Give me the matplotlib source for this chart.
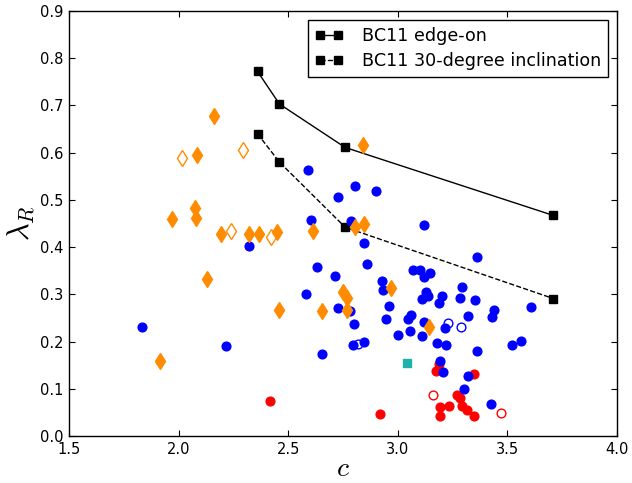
import matplotlib
matplotlib.use("Agg")
from matplotlib import pyplot as plt

# BC11 model tracks
bc_c = [2.36, 2.46, 2.76, 3.71]
bc_edge = [0.772, 0.703, 0.611, 0.467]
bc_30 = [0.640, 0.580, 0.442, 0.291]

# orange diamonds (filled)
or_c = [2.163, 2.843, 2.086, 2.077, 2.080, 1.968, 2.192, 2.319, 2.369, 2.451,
        2.612, 2.803, 2.847, 2.130, 2.967, 2.749, 2.768, 2.768, 2.456, 2.655,
        3.141, 1.913]
or_l = [0.678, 0.616, 0.596, 0.483, 0.461, 0.459, 0.427, 0.427, 0.427, 0.432,
        0.434, 0.442, 0.450, 0.333, 0.314, 0.306, 0.293, 0.267, 0.266, 0.265,
        0.231, 0.159]
# orange diamonds (open)
or_open_c = [2.014, 2.292, 2.240, 2.420]
or_open_l = [0.589, 0.606, 0.435, 0.421]

# blue circles (filled)
bl_c = [2.592, 2.804, 2.902, 2.726, 2.602, 2.788, 3.120, 2.845, 2.321, 3.362,
        2.860, 2.633, 3.068, 3.102, 3.145, 3.120, 2.715, 2.929, 3.291, 2.932,
        2.582, 3.128, 3.201, 3.138, 3.111, 3.283, 3.352, 3.189, 2.960, 3.608,
        2.727, 2.781, 3.440, 3.322, 3.062, 3.048, 2.947, 3.431, 3.118, 2.798,
        3.217, 1.833, 3.056, 2.999, 3.112, 3.564, 2.845, 3.179, 2.797, 3.219,
        3.521, 2.216, 3.361, 2.655, 3.192, 3.204, 3.322, 3.300, 3.425]
bl_l = [0.564, 0.529, 0.518, 0.506, 0.458, 0.455, 0.446, 0.408, 0.403, 0.380,
        0.364, 0.358, 0.352, 0.351, 0.345, 0.337, 0.339, 0.329, 0.315, 0.310,
        0.300, 0.304, 0.297, 0.296, 0.290, 0.293, 0.289, 0.281, 0.275, 0.274,
        0.271, 0.265, 0.267, 0.255, 0.257, 0.248, 0.248, 0.252, 0.241, 0.237,
        0.229, 0.231, 0.222, 0.214, 0.212, 0.202, 0.200, 0.197, 0.193, 0.192,
        0.192, 0.191, 0.181, 0.173, 0.158, 0.135, 0.127, 0.099, 0.067]
# blue circles (open)
bl_open_c = [3.229, 3.290, 2.819]
bl_open_l = [0.239, 0.230, 0.195]

# red circles (filled)
rd_c = [2.417, 2.921, 3.174, 3.189, 3.349, 3.269, 3.284, 3.234, 3.192, 3.294,
        3.316, 3.192, 3.349]
rd_l = [0.075, 0.047, 0.137, 0.152, 0.131, 0.087, 0.080, 0.064, 0.061, 0.063,
        0.055, 0.042, 0.042]
# red circles (open)
rd_open_c = [3.159, 3.469]
rd_open_l = [0.087, 0.048]

# single teal square
sq_c = [3.043]
sq_l = [0.155]

plt.rcParams['font.family'] = 'DejaVu Sans'
plt.rcParams['mathtext.fontset'] = 'cm'

fig = plt.figure(figsize=(6.32, 4.83), dpi=100)
ax = fig.add_axes([69 / 632, 1 - 436 / 483, 548 / 632, 425 / 483])

ax.plot(bc_c, bc_edge, 'k-', marker='s', ms=6, lw=1, label='BC11 edge-on')
ax.plot(bc_c, bc_30, 'k--', marker='s', ms=6, lw=1, label='BC11 30-degree inclination')

ax.plot(rd_open_c, rd_open_l, 'o', ls='none', ms=6.3, mfc='white', mec='red', mew=1)
ax.plot(bl_open_c, bl_open_l, 'o', ls='none', ms=6.3, mfc='white', mec='blue', mew=1)
ax.plot(rd_c, rd_l, 'o', ls='none', ms=6.3, color='red', mec='red')
ax.plot(bl_c, bl_l, 'o', ls='none', ms=6.3, color='blue', mec='blue')
ax.plot(or_open_c, or_open_l, 'd', ls='none', ms=8.5, mfc='white', mec='darkorange', mew=1)
ax.plot(or_c, or_l, 'd', ls='none', ms=8.5, color='darkorange', mec='darkorange')
ax.plot(sq_c, sq_l, 's', ls='none', ms=6.3, color='lightseagreen', mec='lightseagreen')

ax.set_xlim(1.5, 4.0)
ax.set_ylim(0.0, 0.9)
ax.set_xticks([1.5, 2.0, 2.5, 3.0, 3.5, 4.0])
ax.set_yticks([0.0, 0.1, 0.2, 0.3, 0.4, 0.5, 0.6, 0.7, 0.8, 0.9])
ax.tick_params(direction='in', top=True, right=True, length=4, width=0.8,
               labelsize=10.5, pad=4)
for s in ax.spines.values():
    s.set_linewidth(1)

ax.set_xlabel('$c$', fontsize=20, labelpad=-2)
ax.set_ylabel('$\\lambda_R$', fontsize=22, labelpad=2)

leg = ax.legend(loc='upper right', numpoints=2, fontsize=12.6, fancybox=False,
                framealpha=1, edgecolor='black', handlelength=1.6,
                handletextpad=1.1, labelspacing=0.4, borderaxespad=0.5)
leg.get_frame().set_linewidth(1)

fig.savefig('out.png', dpi=100)
